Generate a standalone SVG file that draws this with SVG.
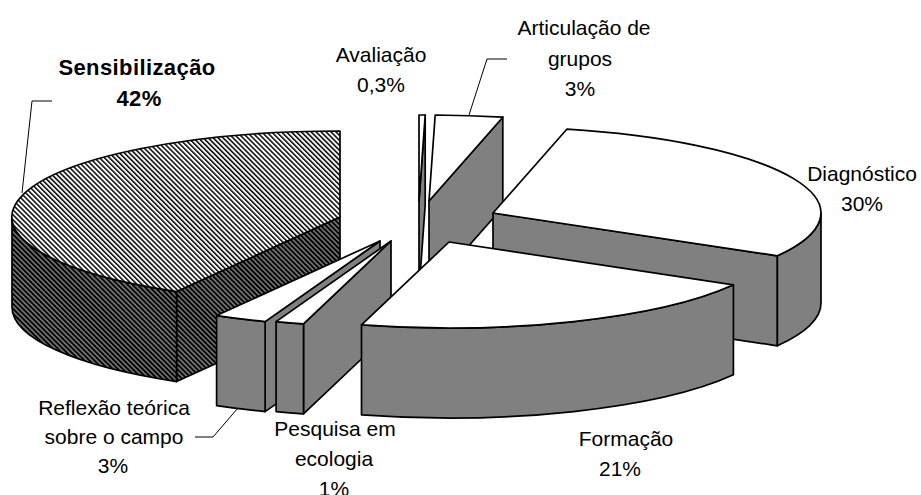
<svg xmlns="http://www.w3.org/2000/svg" width="921" height="495" viewBox="0 0 921 495">
<style>
.lbl{font-family:"Liberation Sans",Arial,sans-serif;font-size:21px;fill:#000;text-anchor:middle}
.b{font-weight:bold;font-size:22px;letter-spacing:0.4px}
.f{stroke:#000;stroke-width:1.7;stroke-linejoin:round}
.w{fill:#fff}
.g{fill:#808080}
.lead{fill:none;stroke:#000;stroke-width:1}
</style>
<defs>
<pattern id="hl" width="3.5" height="3.5" patternUnits="userSpaceOnUse" patternTransform="rotate(-45)">
<rect width="3.5" height="3.5" fill="#fff"/><rect width="1.5" height="3.5" fill="#000"/>
</pattern>
<pattern id="hd" width="3.5" height="3.5" patternUnits="userSpaceOnUse" patternTransform="rotate(-45)">
<rect width="3.5" height="3.5" fill="#737373"/><rect width="1.8" height="3.5" fill="#000"/>
</pattern>
</defs>
<rect width="921" height="495" fill="#fff"/>

<g id="avaliacao">
<path class="f g" d="M419,201 L425.2,115 L425.2,205 L419,291 Z"/>
<path class="f w" d="M419,201 L419,115 L425.2,115 Z"/>
</g>
<g id="articulacao">
<path class="f g" d="M429,201 L502.8,117.2 L502.8,207.2 L429,291 Z"/>
<path class="f w" d="M429,201 L435.2,115 A328,86 0 0 1 502.8,117.2 Z"/>
</g>
<g id="diagnostico">
<path class="f g" d="M493,213 L777.4,255.8 L777.4,345.8 L493,303 Z"/>
<path class="f g" d="M821,213 A328,86 0 0 1 777.4,255.8 L777.4,345.8 A328,86 0 0 0 821,303 Z"/>
<path class="f w" d="M493,213 L566.8,129.2 A328,86 0 0 1 777.4,255.8 Z"/>
</g>
<g id="sensibilizacao">
<path class="f" fill="url(#hd)" d="M340,217 L176.6,291.6 L176.6,381.6 L340,307 Z"/>
<path class="f" fill="url(#hd)" d="M12,217 A328,86 0 0 0 176.6,291.6 L176.6,381.6 A328,86 0 0 1 12,307 Z"/>
<path class="f" fill="url(#hl)" d="M340,217 L340,131 A328,86 0 0 0 176.6,291.6 Z"/>
</g>
<g id="reflexao">
<path class="f g" d="M380,241 L265.1,321.6 L265.1,411.6 L380,331 Z"/>
<path class="f g" d="M265.1,321.6 A328,86 0 0 1 216.6,315.6 L216.6,405.6 A328,86 0 0 0 265.1,411.6 Z"/>
<path class="f w" d="M380,241 L265.1,321.6 A328,86 0 0 1 216.6,315.6 Z"/>
</g>
<g id="pesquisa">
<path class="f g" d="M391,241 L303.5,323.9 L303.5,413.9 L391,331 Z"/>
<path class="f g" d="M303.5,323.9 A328,86 0 0 1 276.1,321.6 L276.1,411.6 A328,86 0 0 0 303.5,413.9 Z"/>
<path class="f w" d="M391,241 L303.5,323.9 A328,86 0 0 1 276.1,321.6 Z"/>
</g>
<g id="formacao">
<path class="f g" d="M733.4,284.8 A328,86 0 0 1 361.5,324.9 L361.5,414.9 A328,86 0 0 0 733.4,374.8 Z"/>
<path class="f w" d="M449,242 L733.4,284.8 A328,86 0 0 1 361.5,324.9 Z"/>
</g>

<g id="connectors">
<polyline class="lead" points="52,101 32,101 22,193"/>
<polyline class="lead" points="507,59 487,59 469,115"/>
<polyline class="lead" points="195,437 213,437 238,408"/>
</g>

<g id="labels">
<text class="lbl b" x="137" y="75">Sensibilização</text>
<text class="lbl b" x="139" y="106">42%</text>
<text class="lbl" x="381" y="62">Avaliação</text>
<text class="lbl" x="381" y="92">0,3%</text>
<text class="lbl" x="584" y="35">Articulação de</text>
<text class="lbl" x="580" y="66">grupos</text>
<text class="lbl" x="580" y="96">3%</text>
<text class="lbl" x="862" y="181">Diagnóstico</text>
<text class="lbl" x="862" y="211">30%</text>
<text class="lbl" x="626" y="446">Formação</text>
<text class="lbl" x="620" y="476">21%</text>
<text class="lbl" x="335" y="436">Pesquisa em</text>
<text class="lbl" x="334" y="466">ecologia</text>
<text class="lbl" x="334" y="496">1%</text>
<text class="lbl" x="114" y="415">Reflexão teórica</text>
<text class="lbl" x="114" y="444">sobre o campo</text>
<text class="lbl" x="113" y="473">3%</text>
</g>
</svg>
